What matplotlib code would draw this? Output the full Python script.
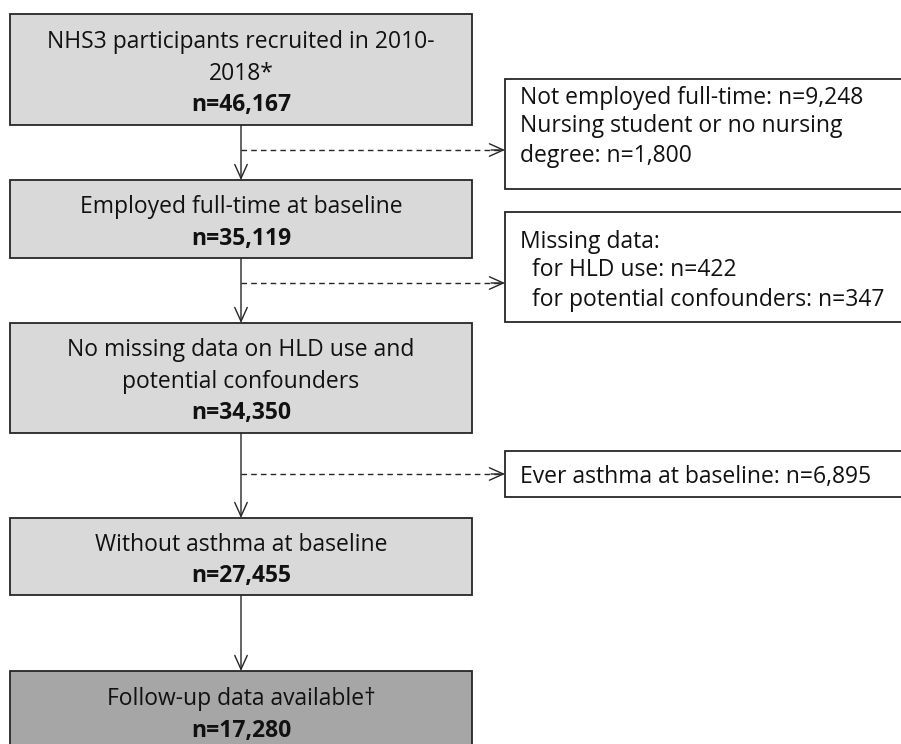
import matplotlib
matplotlib.use("Agg")
import matplotlib.pyplot as plt
from matplotlib.patches import Rectangle

# ---- data ----
main_labels = [
    ["NHS3 participants recruited in 2010-", "2018*"],
    ["Employed full-time at baseline"],
    ["No missing data on HLD use and", "potential confounders"],
    ["Without asthma at baseline"],
    ["Follow-up data available\u2020"],
]
main_counts = ["n=46,167", "n=35,119", "n=34,350", "n=27,455", "n=17,280"]
excl_labels = [
    ["Not employed full-time: n=9,248", "Nursing student or no nursing", "degree: n=1,800"],
    ["Missing data:", "  for HLD use: n=422", "  for potential confounders: n=347"],
    ["Ever asthma at baseline: n=6,895"],
]

# ---- layout (pixels) ----
W, H = 901, 744
FONT = "Open Sans"
FS = 16.5
YOFF = 2.5
main_x0, main_x1 = 10, 472
cx = 241
main_boxes = [(14, 125), (180, 258), (323, 433), (518, 595), (671, 756)]
main_colors = ["#d9d9d9", "#d9d9d9", "#d9d9d9", "#d9d9d9", "#a6a6a6"]
main_line_gap = 31.5
excl_x0, excl_x1 = 505, 903
excl_boxes = [(79, 189), (212, 322), (451, 497)]
excl_first_line = [95, 239, 474]
excl_line_gap = 29
dash_y = [150, 283, 474]
head = "->,head_length=1.0,head_width=0.45"

fig = plt.figure(figsize=(W / 100, H / 100), dpi=100)
ax = fig.add_axes([0, 0, 1, 1])
ax.set_xlim(0, W)
ax.set_ylim(H, 0)
ax.axis("off")

edge = "#262626"
for (t, b), col, lines, cnt in zip(main_boxes, main_colors, main_labels, main_counts):
    ax.add_patch(Rectangle((main_x0, t), main_x1 - main_x0, b - t,
                           facecolor=col, edgecolor=edge, lw=1.3, zorder=2))
    all_lines = lines + [cnt]
    n = len(all_lines)
    if b > H:
        mid = t + 41.5
    else:
        mid = (t + b) / 2 + 1.5
    y0 = mid - main_line_gap * (n - 1) / 2
    for i, s in enumerate(all_lines):
        ax.text(cx, y0 + i * main_line_gap + YOFF, s, ha="center", va="center",
                fontsize=FS, family=FONT, color="#111111",
                fontweight="bold" if i == n - 1 else "normal", zorder=3)

for (t, b), lines, y0 in zip(excl_boxes, excl_labels, excl_first_line):
    ax.add_patch(Rectangle((excl_x0, t), excl_x1 - excl_x0, b - t,
                           facecolor="white", edgecolor=edge, lw=1.3, zorder=2))
    for i, s in enumerate(lines):
        ax.text(excl_x0 + 15, y0 + i * excl_line_gap + YOFF, s, ha="left", va="center",
                fontsize=FS, family=FONT, color="#111111", zorder=3)

# vertical arrows
for (t0, b0), (t1, b1) in zip(main_boxes[:-1], main_boxes[1:]):
    ax.annotate("", xy=(cx, t1), xytext=(cx, b0),
                arrowprops=dict(arrowstyle=head, color=edge, lw=1.0,
                                shrinkA=0, shrinkB=0), zorder=1)

# dashed arrows
for y in dash_y:
    ax.plot([cx, excl_x0 - 2], [y, y], ls=(0, (4, 3)), color=edge, lw=1.0, zorder=1)
    ax.annotate("", xy=(excl_x0, y), xytext=(excl_x0 - 14, y),
                arrowprops=dict(arrowstyle=head, color=edge, lw=1.0,
                                shrinkA=0, shrinkB=0), zorder=1)

fig.savefig("out.png", dpi=100, facecolor="white")
